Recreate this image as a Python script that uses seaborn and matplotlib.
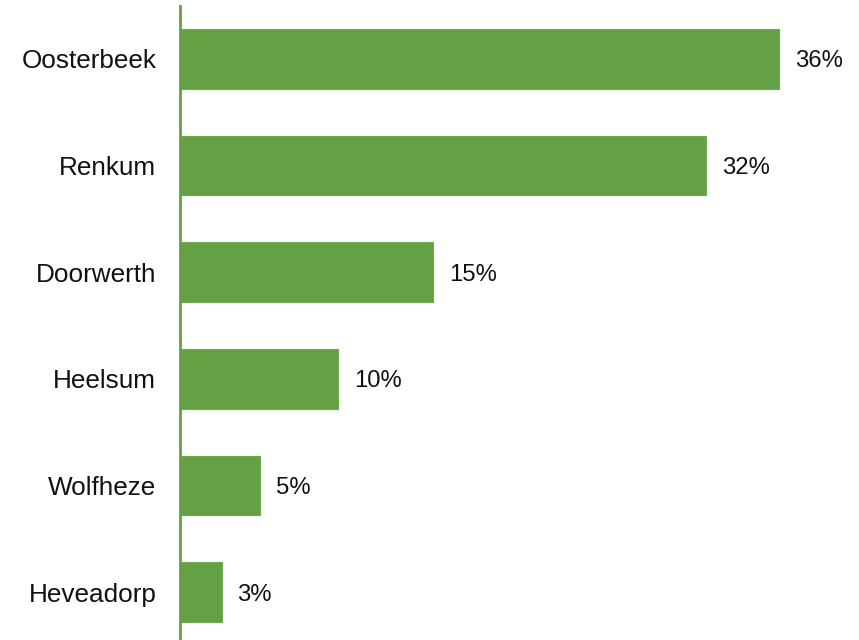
import matplotlib
matplotlib.use("Agg")
import matplotlib.pyplot as plt
import seaborn as sns
import pandas as pd

# Data
places = ["Oosterbeek", "Renkum", "Doorwerth", "Heelsum", "Wolfheze", "Heveadorp"]
share = [36.0, 31.6, 15.2, 9.5, 4.8, 2.5]
labels = ["36%", "32%", "15%", "10%", "5%", "3%"]

df = pd.DataFrame({"place": places, "share": share})

sns.set_style("white")
plt.rcParams["font.family"] = ["Liberation Sans", "DejaVu Sans"]

fig = plt.figure(figsize=(8.59, 6.4), dpi=100)
ax = fig.add_axes([0.2095, -0.0088, 0.775, 1.0])

green = "#64a044"
sns.barplot(data=df, x="share", y="place", color=green, width=0.56,
            saturation=1, ax=ax, edgecolor="#70aa50", linewidth=0.8)

for i, (v, lab) in enumerate(zip(share, labels)):
    ax.text(v + 0.95, i, lab, va="center_baseline", ha="left",
            fontsize=17.2, color="#111111")

ax.set_xlim(0, 40)
ax.set_ylim(5.5, -0.5)
ax.set_xlabel("")
ax.set_ylabel("")
ax.set_xticks([])
ax.tick_params(axis="y", length=0, pad=17, labelsize=18.8, labelcolor="#111111")
for s in ["top", "right", "bottom"]:
    ax.spines[s].set_visible(False)
ax.spines["left"].set_color(green)
ax.spines["left"].set_linewidth(2)

fig.savefig("out.png", dpi=100)
